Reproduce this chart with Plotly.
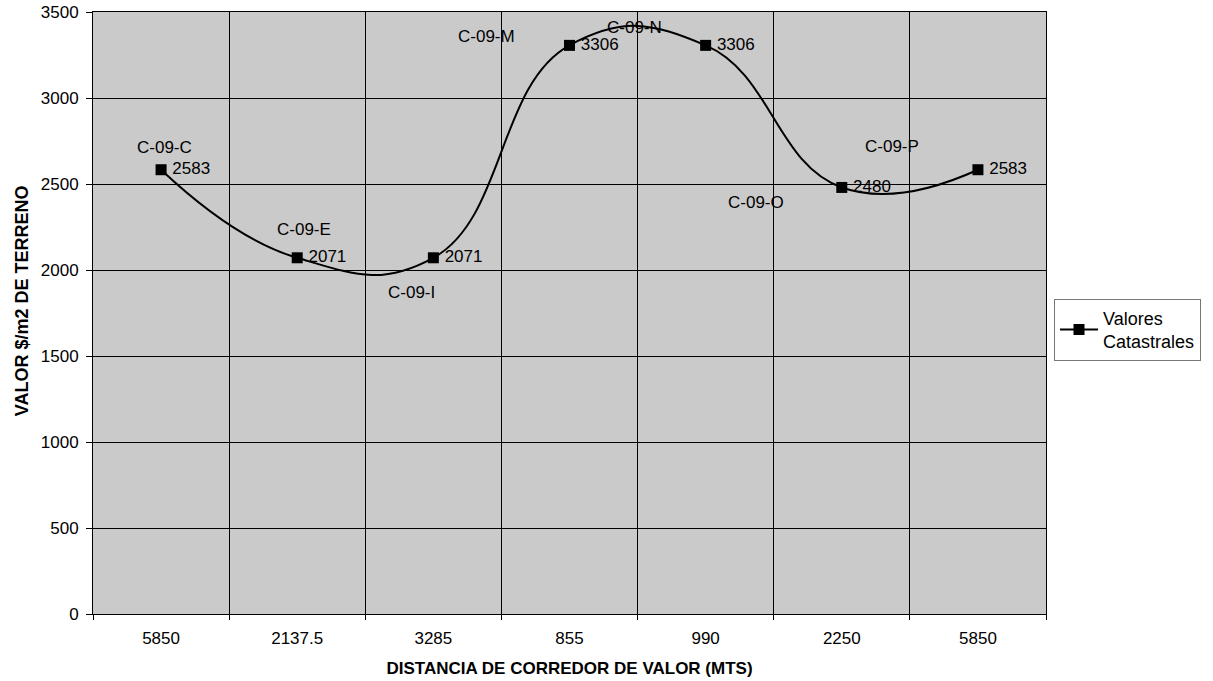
import plotly.graph_objects as go

# Distances along the value corridor (category labels) and cadastral values
distances = ["5850", "2137.5", "3285", "855", "990", "2250", "5850"]
codes = ["C-09-C", "C-09-E", "C-09-I", "C-09-M", "C-09-N", "C-09-O", "C-09-P"]
values = [2583, 2071, 2071, 3306, 3306, 2480, 2583]

# Pixel offsets of each zone code label relative to its point
code_shift = [(3, -22), (7, -28), (-22, 35), (-83, -9), (-71, -18), (-86, 15), (-86, -23)]

FONT = "Arial, Liberation Sans, sans-serif"
positions = list(range(len(distances)))

fig = go.Figure()
fig.add_trace(go.Scatter(
    x=positions,
    y=values,
    mode="lines+markers+text",
    name="Valores<br>Catastrales",
    line=dict(color="black", width=2, shape="spline", smoothing=1.3),
    marker=dict(symbol="square", size=11, color="black"),
    text=["\u2009" + str(v) for v in values],
    textposition="middle right",
    textfont=dict(family=FONT, size=17, color="black"),
    cliponaxis=False,
))

for i, (code, (dx, dy)) in enumerate(zip(codes, code_shift)):
    fig.add_annotation(
        x=positions[i], y=values[i], text=code, showarrow=False,
        xshift=dx, yshift=-dy,
        font=dict(family=FONT, size=17, color="black"),
    )

# Vertical axis title, placed beside the tick labels
fig.add_annotation(
    xref="paper", yref="paper", x=-0.0742, y=0.52,
    text="<b>VALOR $/m2 DE TERRENO</b>", textangle=-90, showarrow=False,
    xanchor="center", yanchor="middle",
    font=dict(family=FONT, size=18, color="black"),
)

fig.update_layout(
    width=1213, height=681,
    margin=dict(l=93, r=163, t=12, b=67),
    paper_bgcolor="white",
    plot_bgcolor="#cacaca",
    font=dict(family=FONT, size=17, color="black"),
    showlegend=True,
    legend=dict(
        x=1.0084, y=0.524, xanchor="left", yanchor="top",
        bgcolor="white", bordercolor="#777777", borderwidth=1,
        font=dict(family=FONT, size=18, color="black"),
        itemwidth=38,
    ),
)

fig.update_xaxes(
    range=[-0.5, len(distances) - 0.5], automargin=False,
    tickmode="array", tickvals=positions, ticktext=distances,
    ticks="", showgrid=False, zeroline=False,
    showline=True, linecolor="black", linewidth=1, mirror=True,
    tickfont=dict(family=FONT, size=17, color="black"),
    ticklabelstandoff=9,
    minor=dict(tick0=0.5, dtick=1, ticks="outside", ticklen=5,
               tickcolor="black", tickwidth=1,
               showgrid=True, gridcolor="black", gridwidth=1),
    title=dict(text="<b>DISTANCIA DE CORREDOR DE VALOR (MTS)</b>",
               font=dict(family=FONT, size=17, color="black"), standoff=14),
)

fig.update_yaxes(
    range=[0, 3500], dtick=500, tick0=0, automargin=False,
    ticks="outside", ticklen=6, tickcolor="black", tickwidth=1,
    showgrid=True, gridcolor="black", gridwidth=1, zeroline=False,
    showline=True, linecolor="black", linewidth=1, mirror=True,
    tickfont=dict(family=FONT, size=17, color="black"),
    ticklabelstandoff=4,
)

fig.write_html("out.html")
